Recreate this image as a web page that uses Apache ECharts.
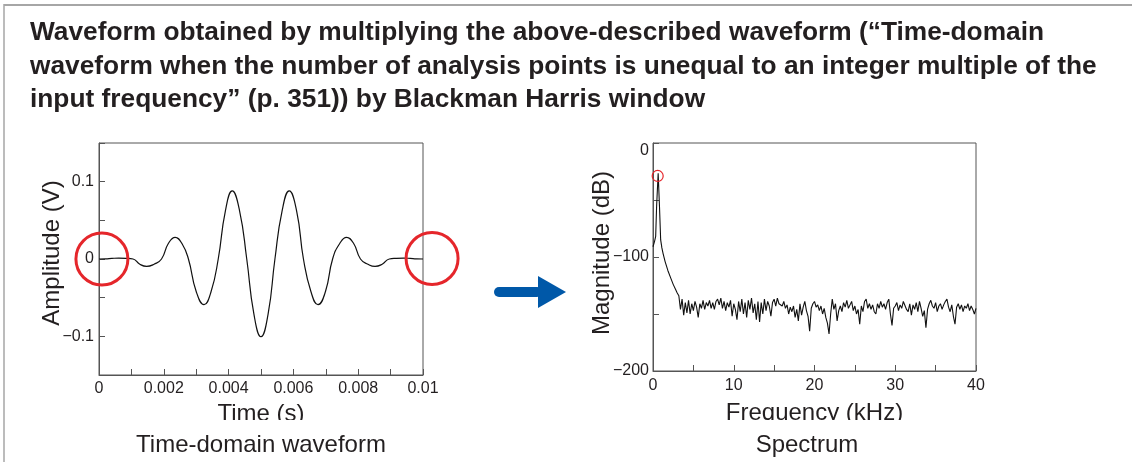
<!DOCTYPE html>
<html>
<head>
<meta charset="utf-8">
<script src="https://cdn.jsdelivr.net/npm/echarts@6/dist/echarts.min.js"></script>
<style>
  html, body { margin: 0; padding: 0; background: #fff; }
  #chart { width: 1132px; height: 462px; }
</style>
</head>
<body>
<div id="chart"></div>
<script>
// windowed time-domain waveform
const timeS = [
  0, 0.0002, 0.0004, 0.00061, 0.00083, 0.00105, 0.00126, 0.00147, 0.0017, 0.00193,
  0.00214, 0.00235, 0.00256, 0.00276, 0.003, 0.00324, 0.00346, 0.00368, 0.0039, 0.00411,
  0.00434, 0.00456, 0.00478, 0.005, 0.00522, 0.00543, 0.00565, 0.00587, 0.0061, 0.00631,
  0.00654, 0.00676, 0.00699, 0.00721, 0.00743, 0.00764, 0.00786, 0.00807, 0.0083, 0.00852,
  0.00874, 0.00896, 0.00918, 0.0094, 0.0096, 0.0098, 0.01
];
const amplitudeV = [
  0, 0.0001, 0.0008, 0.0012, 0.0009, 0, -0.0068, -0.0096, -0.0068, 0,
  0.020, 0.028, 0.020, 0, -0.042, -0.059, -0.042, 0, 0.062, 0.088,
  0.062, 0, -0.071, -0.1005, -0.071, 0, 0.062, 0.088, 0.062, 0,
  -0.042, -0.059, -0.042, 0, 0.020, 0.028, 0.020, 0, -0.0068, -0.0096,
  -0.0068, 0, 0.0009, 0.0012, 0.0008, 0.0001, 0
];

// spectrum (kHz, dB)
const specKHz = [
  0, 0.2, 0.33, 0.45, 0.64, 0.8, 0.95, 1.1, 1.25, 1.5, 1.85, 2.2, 2.5, 2.8, 3.0,
  3.2, 3.4, 3.6, 3.8, 4.0, 4.2, 4.4, 4.6, 4.8, 5.0,
  5.2, 5.4, 5.6, 5.8, 6.0, 6.2, 6.4, 6.6, 6.8, 7.0,
  7.2, 7.4, 7.6, 7.8, 8.0, 8.2, 8.4, 8.6, 8.8, 9.0,
  9.2, 9.4, 9.6, 9.8, 10.0, 10.2, 10.4, 10.6, 10.8, 11.0,
  11.2, 11.4, 11.6, 11.8, 12.0, 12.2, 12.4, 12.6, 12.8, 13.0,
  13.2, 13.4, 13.6, 13.8, 14.0, 14.2, 14.4, 14.6, 14.8, 15.0,
  15.2, 15.4, 15.6, 15.8, 16.0, 16.2, 16.4, 16.6, 16.8, 17.0,
  17.2, 17.4, 17.6, 17.8, 18.0, 18.2, 18.4, 18.6, 18.8, 19.0,
  19.2, 19.4, 19.6, 19.8, 20.0, 20.2, 20.4, 20.6, 20.8, 21.0,
  21.2, 21.4, 21.6, 21.8, 22.0, 22.2, 22.4, 22.6, 22.8, 23.0,
  23.2, 23.4, 23.6, 23.8, 24.0, 24.2, 24.4, 24.6, 24.8, 25.0,
  25.2, 25.4, 25.6, 25.8, 26.0, 26.2, 26.4, 26.6, 26.8, 27.0,
  27.2, 27.4, 27.6, 27.8, 28.0, 28.2, 28.4, 28.6, 28.8, 29.0,
  29.2, 29.4, 29.6, 29.8, 30.0, 30.2, 30.4, 30.6, 30.8, 31.0,
  31.2, 31.4, 31.6, 31.8, 32.0, 32.2, 32.4, 32.6, 32.8, 33.0,
  33.2, 33.4, 33.6, 33.8, 34.0, 34.2, 34.4, 34.6, 34.8, 35.0,
  35.2, 35.4, 35.6, 35.8, 36.0, 36.2, 36.4, 36.6, 36.8, 37.0,
  37.2, 37.4, 37.6, 37.8, 38.0, 38.2, 38.4, 38.6, 38.8, 39.0,
  39.2, 39.4, 39.6, 39.8, 40.0
];
const specDb = [
  -91, -86, -82, -55, -26.5, -55, -85, -92, -97, -104, -112, -118.5, -124, -128.5, -131.5,
  -134, -146, -137, -151, -140, -149, -138, -150, -141, -147,
  -139, -144, -153, -141, -145, -138, -146, -140, -143, -138,
  -145, -140, -146, -139, -137, -142, -136, -145, -139, -147,
  -140, -144, -138, -152, -141, -146, -155, -139, -148, -137,
  -150, -140, -153, -138, -146, -136, -149, -141, -155, -139,
  -157, -140, -150, -137, -147, -139, -143, -152, -140, -137,
  -143, -136, -141, -140, -143, -139, -145, -142, -150, -144,
  -148, -143, -153, -146, -156, -141, -151, -144, -139, -147,
  -152, -165, -145, -141, -139, -144, -142, -147, -143, -150,
  -145, -153, -158, -167.5, -150, -137, -146, -141, -156, -147,
  -143, -148, -140, -144, -138, -145, -142, -139, -147, -143,
  -150, -146, -159, -143, -148, -139, -137, -145, -141, -146,
  -142, -148, -150, -141, -145, -139, -144, -141, -146, -140,
  -137, -150, -160, -145, -143, -140, -147, -142, -145, -139,
  -138, -146, -148, -141, -151, -142, -146, -140, -148, -139,
  -145, -152, -147, -162, -146, -141, -138, -143, -145, -140,
  -148, -143, -141, -146, -142, -139, -137, -144, -148, -142,
  -152, -159, -144, -141, -146, -142, -148, -143, -145, -141,
  -147, -143, -146, -150, -145
];

// red highlight circles, in data units
const waveCircles = [[0.00009, 0], [0.01028, 0.0007]];
const specCircles = [[0.58, -28.9]];

const titleText = 'Waveform obtained by multiplying the above-described waveform (\u201cTime-domain\n' +
  'waveform when the number of analysis points is unequal to an integer multiple of the\n' +
  'input frequency\u201d (p. 351)) by Blackman Harris window';

const FONT = '"Liberation Sans", Arial, Helvetica, sans-serif';
const TXT = '#231f20';
const AX = '#555';

const chart = echarts.init(document.getElementById('chart'));

function axisBase(extra) {
  return Object.assign({
    type: 'value',
    axisLine: { show: true, onZero: false, lineStyle: { color: AX, width: 1 } },
    axisTick: { show: true, inside: true, length: 6, lineStyle: { color: AX } },
    splitLine: { show: false },
    nameLocation: 'middle',
    nameTextStyle: { fontSize: 24, color: TXT, fontFamily: FONT },
  }, extra);
}

const option = {
  animation: false,
  backgroundColor: '#fff',
  title: [
    {
      text: titleText, left: 30, top: 16, padding: 0,
      textStyle: { fontSize: 26.3, fontWeight: 'bold', lineHeight: 33.5, color: TXT, fontFamily: FONT }
    },
    {
      text: 'Time-domain waveform', left: 261, top: 433, padding: 0, textAlign: 'center',
      textStyle: { fontSize: 24, fontWeight: 'normal', color: TXT, fontFamily: FONT }
    },
    {
      text: 'Spectrum', left: 807, top: 433, padding: 0, textAlign: 'center',
      textStyle: { fontSize: 24, fontWeight: 'normal', color: TXT, fontFamily: FONT }
    }
  ],
  grid: [
    { left: 99, top: 143, width: 324, height: 232, show: true, borderColor: AX, borderWidth: 1 },
    { left: 653, top: 143, width: 323, height: 228, show: true, borderColor: AX, borderWidth: 1 }
  ],
  xAxis: [
    axisBase({
      gridIndex: 0, min: 0, max: 0.01, interval: 0.002,
      minorTick: { show: true, splitNumber: 2, length: 6, lineStyle: { color: AX } },
      axisLabel: {
        color: TXT, fontSize: 16, fontFamily: FONT, margin: 6,
        formatter: v => String(parseFloat(v.toFixed(4)))
      },
      name: 'Time (s)', nameGap: 26
    }),
    axisBase({
      gridIndex: 1, min: 0, max: 40, interval: 10,
      minorTick: { show: true, splitNumber: 2, length: 6, lineStyle: { color: AX } },
      axisLabel: { color: TXT, fontSize: 16, fontFamily: FONT, margin: 7 },
      name: 'Frequency (kHz)', nameGap: 30
    })
  ],
  yAxis: [
    axisBase({
      gridIndex: 0, min: -0.15, max: 0.15, interval: 0.05,
      axisLabel: {
        color: TXT, fontSize: 16, fontFamily: FONT, margin: 5,
        formatter: v => {
          const k = Math.round(v * 100);
          if (k % 10 !== 0) return '';
          if (k === 0) return '0';
          return (k < 0 ? '\u2212' : '') + (Math.abs(k) / 100);
        }
      },
      name: 'Amplitude (V)', nameGap: 35, nameMoveOverlap: false,
      nameTextStyle: { fontSize: 24, color: TXT, fontFamily: FONT, padding: [0, 0, 0, 12] }
    }),
    axisBase({
      gridIndex: 1, min: -200, max: 0, interval: 50,
      axisLabel: {
        color: TXT, fontSize: 16, fontFamily: FONT, margin: 4,
        verticalAlignMaxLabel: 'top',
        formatter: v => {
          if (v % 100 !== 0) return '';
          return v < 0 ? '\u2212' + Math.abs(v) : String(v);
        }
      },
      name: 'Magnitude (dB)', nameGap: 39, nameMoveOverlap: false,
      nameTextStyle: { fontSize: 24, color: TXT, fontFamily: FONT, padding: [0, 0, 0, 8] }
    })
  ],
  series: [
    {
      type: 'line', xAxisIndex: 0, yAxisIndex: 0,
      data: timeS.map((t, i) => [t, amplitudeV[i]]),
      smooth: 0.5, showSymbol: false,
      lineStyle: { color: '#111', width: 1.2 }
    },
    {
      type: 'line', xAxisIndex: 1, yAxisIndex: 1,
      data: specKHz.map((f, i) => [f, specDb[i]]),
      showSymbol: false,
      lineStyle: { color: '#111', width: 1.1 }
    }
  ]
};
chart.setOption(option);

// overlays: page frame, arrow, red rings, clipped axis-name baseline
const graphics = [
  { type: 'line', shape: { x1: 4, y1: 5, x2: 1132, y2: 5 }, style: { stroke: '#a6a6a6', lineWidth: 2 } },
  { type: 'line', shape: { x1: 4, y1: 4, x2: 4, y2: 462 }, style: { stroke: '#a6a6a6', lineWidth: 1.5 } },
  { type: 'rect', shape: { x: 494, y: 287, width: 48, height: 10, r: 5 }, style: { fill: '#0058a8' } },
  { type: 'polygon', shape: { points: [[538, 276], [566, 292], [538, 308]] }, style: { fill: '#0058a8' } },
  { type: 'rect', z: 50, shape: { x: 180, y: 420, width: 170, height: 8 }, style: { fill: '#fff' } },
  { type: 'rect', z: 50, shape: { x: 700, y: 420, width: 240, height: 8 }, style: { fill: '#fff' } }
];
waveCircles.forEach(c => {
  const p = chart.convertToPixel({ gridIndex: 0 }, c);
  graphics.push({ type: 'circle', z: 60, shape: { cx: p[0], cy: p[1], r: 26 },
    style: { fill: 'none', stroke: '#e5262b', lineWidth: 3 } });
});
specCircles.forEach(c => {
  const p = chart.convertToPixel({ gridIndex: 1 }, c);
  graphics.push({ type: 'circle', z: 60, shape: { cx: p[0], cy: p[1], r: 5.5 },
    style: { fill: 'none', stroke: '#e5262b', lineWidth: 1.2 } });
});
chart.setOption({ graphic: graphics });
</script>
</body>
</html>
